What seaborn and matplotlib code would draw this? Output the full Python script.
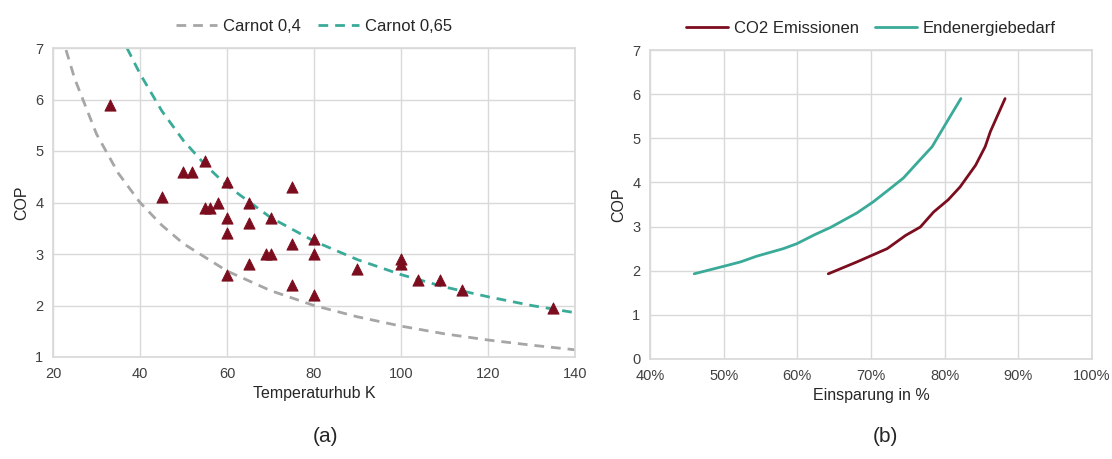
import numpy as np
import pandas as pd
import matplotlib
matplotlib.use('Agg')
import matplotlib.pyplot as plt
import seaborn as sns
from matplotlib.ticker import PercentFormatter

# measured heat pumps: temperature lift vs COP
hub = [33, 45, 50, 52, 55, 55, 56, 58, 60, 60, 60, 60, 65, 65, 65, 69, 70, 70,
       75, 75, 75, 80, 80, 80, 90, 100, 100, 104, 109, 114, 135]
cop = [5.9, 4.1, 4.6, 4.6, 4.8, 3.9, 3.9, 4.0, 4.4, 3.7, 3.4, 2.6, 4.0, 3.6, 2.8, 3.0, 3.7, 3.0,
       4.3, 3.2, 2.4, 3.3, 3.0, 2.2, 2.7, 2.9, 2.8, 2.5, 2.5, 2.3, 1.95]

# Carnot reference curves
c04_x = [23, 25, 30, 35, 40, 45, 50, 60, 70, 80, 90, 100, 110, 120, 130, 140]
c04_y = [6.96, 6.4, 5.33, 4.57, 4.0, 3.56, 3.2, 2.67, 2.29, 2.0, 1.78, 1.6, 1.45, 1.33, 1.23, 1.14]
c065_x = [37, 40, 45, 50, 55, 60, 70, 80, 90, 100, 110, 120, 130, 140]
c065_y = [7.0, 6.5, 5.78, 5.2, 4.73, 4.33, 3.71, 3.25, 2.89, 2.6, 2.36, 2.17, 2.0, 1.86]

# savings vs COP
end_x = [46.0, 50.0, 52.3, 54.5, 58.1, 59.9, 62.4, 64.5, 68.1, 70.3, 72.6, 74.4, 76.2, 78.3, 79.9, 82.2]
end_y = [1.93, 2.1, 2.2, 2.33, 2.5, 2.61, 2.82, 2.98, 3.31, 3.56, 3.86, 4.1, 4.43, 4.81, 5.26, 5.9]
co2_x = [64.2, 68.1, 72.2, 74.7, 76.7, 78.5, 80.5, 82.1, 84.2, 85.5, 86.2, 88.2]
co2_y = [1.93, 2.2, 2.5, 2.8, 2.99, 3.33, 3.61, 3.9, 4.39, 4.81, 5.15, 5.9]

sns.set_theme(style='white')
plt.rcParams['font.family'] = ['Liberation Sans', 'DejaVu Sans']

MAROON = '#7b0d1e'
TEAL = '#3aaa99'
GRAY = '#a6a6a6'
GRID = '#d9d9d9'

fig = plt.figure(figsize=(11.12, 4.59), dpi=100)
W, H = 1112, 459
ax1 = fig.add_axes([53 / W, 1 - 357 / H, (575 - 53) / W, (357 - 48) / H])
ax2 = fig.add_axes([650 / W, 1 - 359 / H, (1092 - 650) / W, (359 - 50) / H])

# left panel
sns.lineplot(x=c04_x, y=c04_y, ax=ax1, color=GRAY, lw=2, linestyle=(0, (3.5, 2.5)), sort=False,
             label='Carnot 0,4')
sns.lineplot(x=c065_x, y=c065_y, ax=ax1, color=TEAL, lw=2, linestyle=(0, (3.5, 2.5)), sort=False,
             label='Carnot 0,65')
sns.scatterplot(x=hub, y=cop, ax=ax1, marker='^', color=MAROON, s=65, edgecolor=MAROON, zorder=3)
ax1.set_xlim(20, 140)
ax1.set_ylim(1, 7)
ax1.set_xticks(range(20, 141, 20))
ax1.set_yticks(range(1, 8))
ax1.set_xlabel('Temperaturhub K', fontsize=11.5)
ax1.set_ylabel('COP', fontsize=11.5)

# right panel
sns.lineplot(x=co2_x, y=co2_y, ax=ax2, color=MAROON, lw=2, sort=False, label='CO2 Emissionen')
sns.lineplot(x=end_x, y=end_y, ax=ax2, color=TEAL, lw=2, sort=False, label='Endenergiebedarf')
ax2.set_xlim(40, 100)
ax2.set_ylim(0, 7)
ax2.set_xticks(range(40, 101, 10))
ax2.set_yticks(range(0, 8))
ax2.xaxis.set_major_formatter(PercentFormatter(decimals=0))
ax2.set_xlabel('Einsparung in %', fontsize=11.5)
ax2.set_ylabel('COP', fontsize=11.5)

for ax in (ax1, ax2):
    ax.legend(loc='lower center', bbox_to_anchor=(0.5, 1.025), ncol=2, frameon=False, fontsize=12,
              handlelength=2.5, handletextpad=0.35, columnspacing=1.0, borderaxespad=0)
    ax.grid(True, color=GRID, lw=1)
    ax.set_axisbelow(True)
    for sp in ax.spines.values():
        sp.set_color(GRID)
    ax.tick_params(labelsize=10.5, length=0, pad=7, colors='#404040')

fig.text(325 / W, 1 - 437 / H, '(a)', fontsize=15, ha='center', va='center')
fig.text(885 / W, 1 - 437 / H, '(b)', fontsize=15, ha='center', va='center')

fig.savefig('out.png', dpi=100)
